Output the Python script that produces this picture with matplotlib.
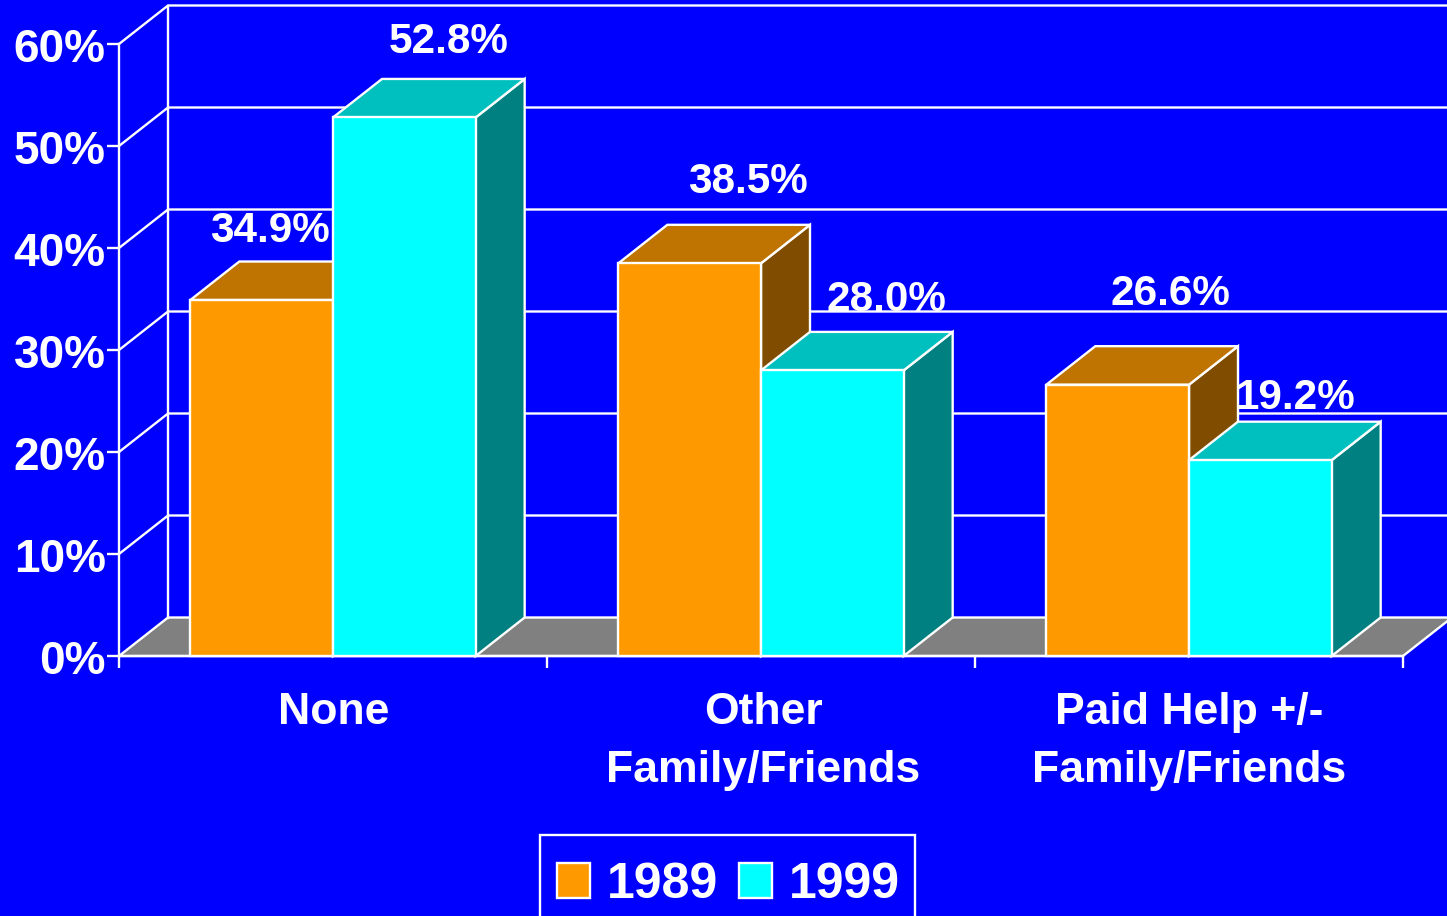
import matplotlib
matplotlib.use("Agg")
import matplotlib.pyplot as plt
from matplotlib.patches import Patch, Rectangle
from matplotlib.transforms import ScaledTranslation

categories = ["None", "Other\nFamily/Friends", "Paid Help +/-\nFamily/Friends"]
series_names = ["1989", "1999"]
values_1989 = [34.9, 38.5, 26.6]
values_1999 = [52.8, 28.0, 19.2]
y_ticks = [0, 10, 20, 30, 40, 50, 60]
y_tick_labels = ["0%", "10%", "20%", "30%", "40%", "50%", "60%"]

W, H = 1447, 916
X0, GROUP_PX = 119, 428
Y0, TEN_PX = 656, 10.2
BLUE, WHITE = "#0000FF", "#FFFFFF"
LW = 1.7

plt.rcParams["font.family"] = ["Liberation Sans", "DejaVu Sans"]
plt.rcParams["font.weight"] = "bold"

fig = plt.figure(figsize=(W / 100, H / 100), dpi=100, facecolor=BLUE)
ax = fig.add_axes([0, 0, 1, 1], facecolor=BLUE)
ax.set_xlim(-X0 / GROUP_PX, (W - X0) / GROUP_PX)
ax.set_ylim(-(H - Y0) / TEN_PX, Y0 / TEN_PX)

DX = 49 / GROUP_PX
DY = 38.5 / TEN_PX
n = len(categories)
top = y_ticks[-1]

# axes, ticks and labels
for s in ("top", "right"):
    ax.spines[s].set_visible(False)
for s in ("left", "bottom"):
    ax.spines[s].set_color(WHITE)
    ax.spines[s].set_linewidth(LW)
    ax.spines[s].set_position(("data", 0))
ax.spines["left"].set_bounds(0, top)
ax.spines["bottom"].set_bounds(0, n)
ax.set_yticks(y_ticks, y_tick_labels)
ax.set_xticks(range(n + 1), [""] * (n + 1))
ax.set_xticks([i + 0.5 + d for i, d in enumerate((0.002, 0.005, 0.0))], categories, minor=True)
ax.tick_params(axis="y", length=8.6, width=LW, color=WHITE, labelcolor=WHITE,
               labelsize=33, pad=1.0)
ax.tick_params(axis="x", which="major", length=8.6, width=LW, color=WHITE)
ax.tick_params(axis="x", which="minor", length=0, labelcolor=WHITE,
               labelsize=32, pad=25.6)
for t in ax.get_xminorticklabels():
    t.set_linespacing(1.53)
down = ScaledTranslation(0, -1 / 100, fig.dpi_scale_trans)
for t in ax.get_yticklabels():
    t.set_transform(t.get_transform() + down)

# floor, walls and grid
ax.fill([0, DX, n + DX, n], [0, DY, DY, 0], facecolor="#808080", edgecolor=WHITE,
        linewidth=LW, zorder=1)
ax.plot([DX, DX], [DY, top + DY], color=WHITE, lw=LW, zorder=1)
for v in y_ticks[1:]:
    ax.plot([0, DX, n + DX], [v, v + DY, v + DY], color=WHITE, lw=LW, zorder=1)

# data labels (hand placed in the source chart: offsets from the bar's top)
series = [
    (values_1989, "#FF9900", "#BF7300", "#804D00"),
    (values_1999, "#00FFFF", "#00BFBF", "#008080"),
]
label_offsets = [
    [(8, 69), (58, 81), (53, 91)],
    [(44, 75), (54, 70), (35, 62)],
]
bar_w = 1 / 3
z = 5
for g in range(n):
    for b, (vals, front, top_c, side) in enumerate(series):
        x = g + 1 / 6 + b * bar_w
        v = vals[g]
        kw = dict(edgecolor=WHITE, linewidth=LW, joinstyle="miter")
        ax.fill([x + bar_w, x + bar_w + DX, x + bar_w + DX, x + bar_w],
                [0, DY, v + DY, v], facecolor=side, zorder=z, **kw)
        ax.fill([x, x + DX, x + bar_w + DX, x + bar_w],
                [v, v + DY, v + DY, v], facecolor=top_c, zorder=z, **kw)
        ax.fill([x, x + bar_w, x + bar_w, x], [0, 0, v, v], facecolor=front,
                zorder=z + 0.5, **kw)
        z += 1
        ox, oy = label_offsets[b][g]
        ax.annotate(f"{v:.1f}%", (x + bar_w / 2, v), xytext=(ox * 0.72, oy * 0.72),
                    textcoords="offset points", ha="center", va="center",
                    color=WHITE, fontsize=30.4, fontweight="bold", zorder=3)

handles = [Patch(facecolor=s[1], edgecolor=WHITE, linewidth=LW) for s in series]
leg = ax.legend(handles, series_names, ncols=2, loc="upper left",
                bbox_to_anchor=(540 / W, 1 - 845 / H), bbox_transform=fig.transFigure,
                fontsize=36, labelcolor=WHITE, frameon=False, borderaxespad=0,
                borderpad=0.34, handlelength=0.66, handleheight=0.69,
                handletextpad=0.33, columnspacing=0.43)
leg.set_zorder(20)
fig.add_artist(Rectangle((540 / W, -0.02), 375 / W, 1 - 835 / H + 0.02,
                         transform=fig.transFigure, facecolor="none",
                         edgecolor=WHITE, linewidth=LW, zorder=21))

fig.savefig("out.png", dpi=100, facecolor=BLUE)
